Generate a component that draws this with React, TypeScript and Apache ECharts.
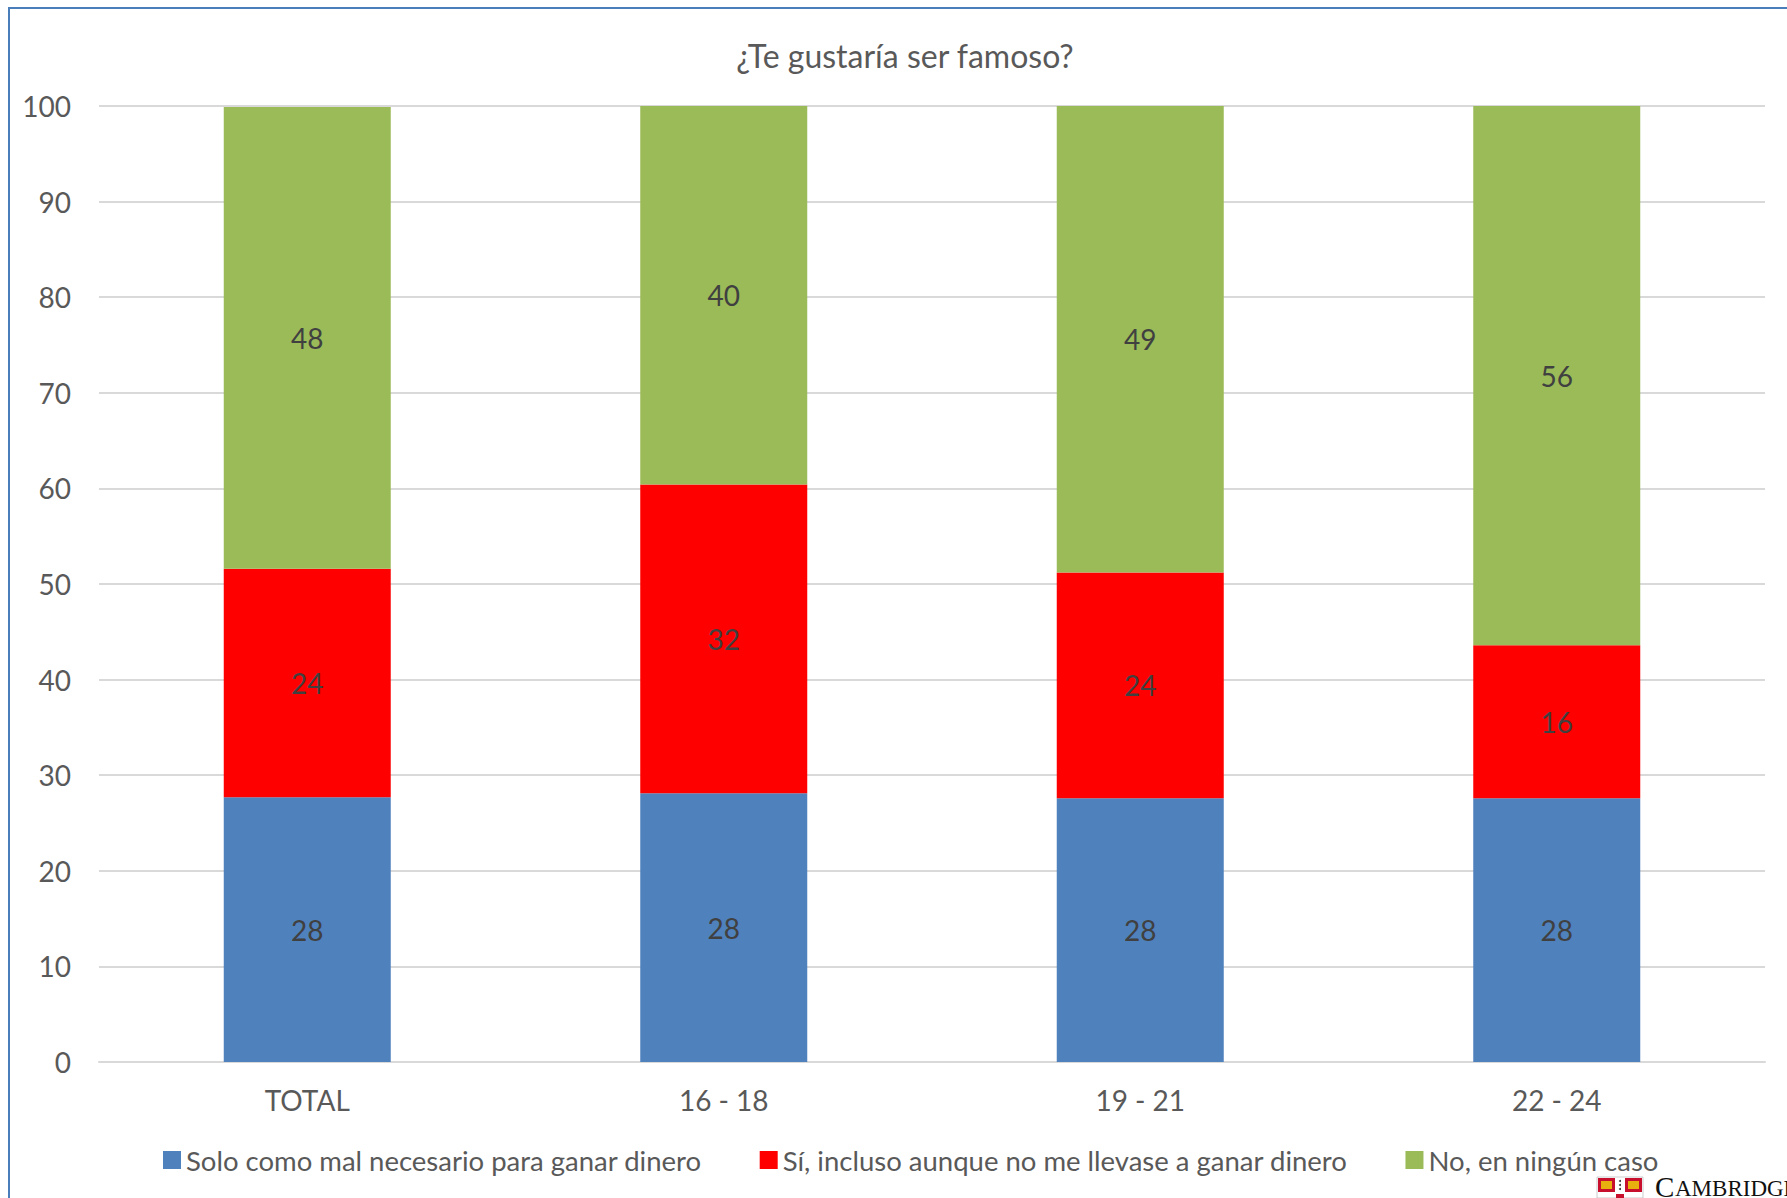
import React, { useEffect, useRef } from "react";
import * as echarts from "echarts";

const categories = ["TOTAL", "16 - 18", "19 - 21", "22 - 24"];
const seriesNames = [
  "Solo como mal necesario para ganar dinero",
  "Sí, incluso aunque no me llevase a ganar dinero",
  "No, en ningún caso",
];
const soloValues = [27.7, 28.1, 27.6, 27.6];
const siValues = [23.9, 32.3, 23.6, 16.0];
const noValues = [48.3, 39.6, 48.8, 56.4];
const yTicks = { min: 0, max: 100, interval: 10 };
const titleText = "¿Te gustaría ser famoso?";

const FONT = "Lato, 'Noto Sans', sans-serif";
const colors = ["#4F81BD", "#FF0000", "#9BBB59"];

export default function App() {
  const ref = useRef<HTMLDivElement>(null);
  useEffect(() => {
    if (!ref.current) return;
    const chart = echarts.init(ref.current, null, { renderer: "svg" });
    const mk = (name: string, data: number[], color: string) => ({
      name,
      type: "bar",
      stack: "total",
      data,
      barWidth: 167,
      itemStyle: { color },
      label: {
        show: true,
        position: "inside",
        color: "#404040",
        fontSize: 28,
        fontFamily: FONT,
        formatter: (p: any) => String(Math.round(p.value)),
      },
    });
    chart.setOption({
      animation: false,
      backgroundColor: "#FFFFFF",
      textStyle: { fontFamily: FONT },
      title: {
        text: titleText,
        left: 900,
        top: 34,
        textAlign: "center",
        textStyle: { color: "#595959", fontSize: 32, fontWeight: "normal", fontFamily: FONT },
      },
      legend: {
        left: 158,
        top: 1141,
        itemWidth: 18,
        itemHeight: 18,
        itemGap: 58,
        icon: "rect",
        textStyle: { color: "#595959", fontSize: 27.5, fontFamily: FONT },
        data: seriesNames,
      },
      grid: {
        left: 99,
        right: 22,
        top: 106,
        bottom: 136,
        containLabel: false,
        outerBoundsMode: "none",
      },
      xAxis: {
        type: "category",
        data: categories,
        axisLine: { lineStyle: { color: "#D9D9D9", width: 2 } },
        axisTick: { show: false },
        axisLabel: { color: "#595959", fontSize: 28, fontFamily: FONT, margin: 24 },
      },
      yAxis: {
        type: "value",
        min: yTicks.min,
        max: yTicks.max,
        interval: yTicks.interval,
        axisLine: { show: false },
        axisTick: { show: false },
        axisLabel: { color: "#595959", fontSize: 28, fontFamily: FONT, margin: 28 },
        splitLine: { lineStyle: { color: "#D9D9D9", width: 2 } },
      },
      series: [
        mk(seriesNames[0], soloValues, colors[0]),
        mk(seriesNames[1], siValues, colors[1]),
        mk(seriesNames[2], noValues, colors[2]),
      ],
      graphic: [
        {
          type: "rect",
          silent: true,
          shape: { x: 9, y: 8, width: 1900, height: 1400 },
          style: { fill: "none", stroke: "#4A7EBB", lineWidth: 2 },
          z: 100,
        },
        {
          type: "group",
          silent: true,
          children: [
            { type: "rect", shape: { x: 1597, y: 1177, width: 46, height: 21 }, style: { fill: "#FFFFFF", stroke: "#999999", lineWidth: 0.5 } },
            { type: "rect", shape: { x: 1598, y: 1178, width: 17, height: 14 }, style: { fill: "#C8102E" } },
            { type: "rect", shape: { x: 1625, y: 1178, width: 17, height: 14 }, style: { fill: "#C8102E" } },
            { type: "rect", shape: { x: 1601, y: 1181, width: 11, height: 8 }, style: { fill: "#E8B00F" } },
            { type: "rect", shape: { x: 1628, y: 1181, width: 11, height: 8 }, style: { fill: "#E8B00F" } },
            { type: "rect", shape: { x: 1616, y: 1194, width: 8, height: 4 }, style: { fill: "#C8102E" } },
            { type: "circle", shape: { cx: 1620, cy: 1181, r: 1 }, style: { fill: "#333" } },
            { type: "circle", shape: { cx: 1620, cy: 1185, r: 1 }, style: { fill: "#333" } },
            { type: "circle", shape: { cx: 1620, cy: 1189, r: 1 }, style: { fill: "#333" } },
          ],
        },
        {
          type: "text",
          silent: true,
          x: 1655,
          y: 1201,
          style: {
            text: "C",
            font: "29px 'Liberation Serif', 'DejaVu Serif', serif",
            fill: "#111111",
            verticalAlign: "bottom",
          },
        },
        {
          type: "text",
          silent: true,
          x: 1675,
          y: 1200,
          style: {
            text: "AMBRIDGE",
            font: "23px 'Liberation Serif', 'DejaVu Serif', serif",
            fill: "#111111",
            verticalAlign: "bottom",
          },
        },
      ],
    });
    return () => chart.dispose();
  }, []);
  return (
    <div
      ref={ref}
      style={{ position: "absolute", left: 0, top: 0, width: 1787, height: 1198 }}
    />
  );
}
